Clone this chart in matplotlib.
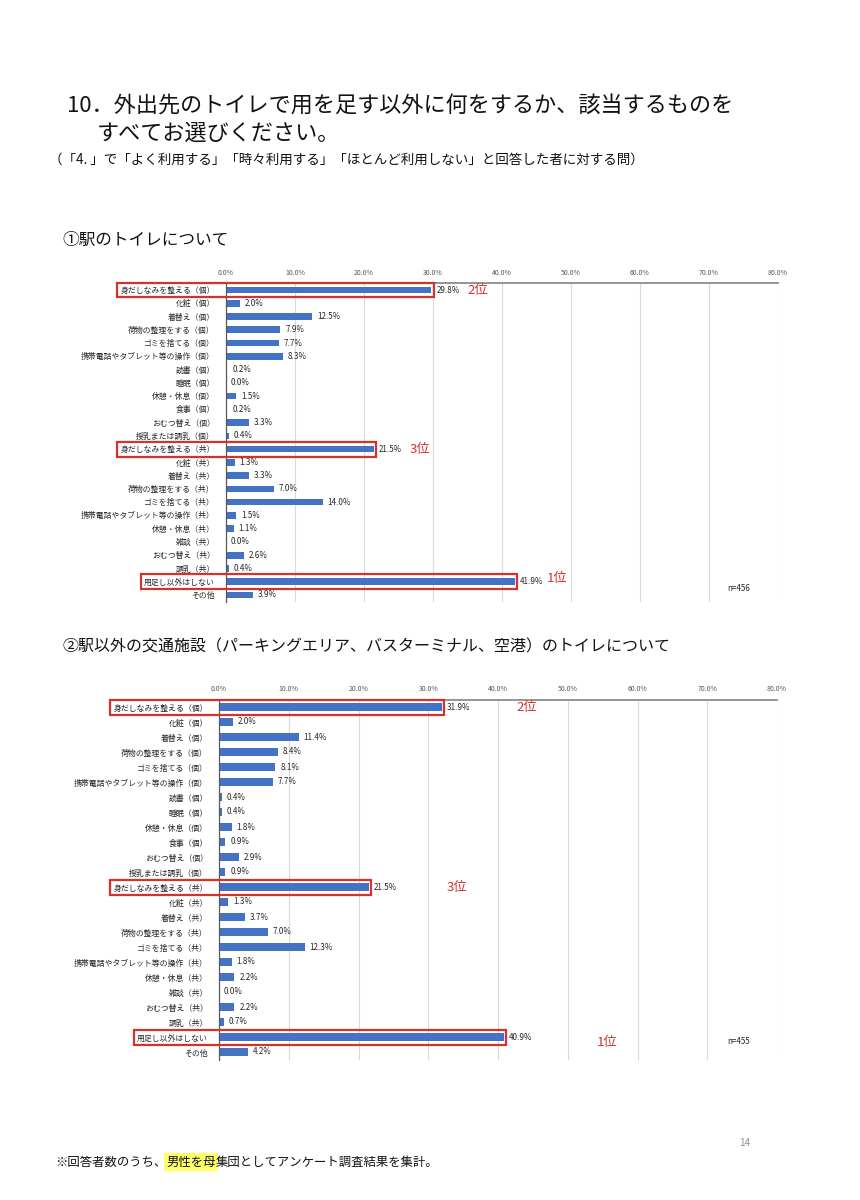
import matplotlib
matplotlib.use("Agg")
import matplotlib.pyplot as plt
from matplotlib.patches import Rectangle

plt.rcParams['font.family'] = ['Noto Sans CJK JP', 'DejaVu Sans']

# ---------------- data ----------------
labels_1 = ["身だしなみを整える（個）", "化粧（個）", "着替え（個）", "荷物の整理をする（個）",
            "ゴミを捨てる（個）", "携帯電話やタブレット等の操作（個）", "読書（個）", "睡眠（個）",
            "休憩・休息（個）", "食事（個）", "おむつ替え（個）", "授乳または調乳（個）",
            "身だしなみを整える（共）", "化粧（共）", "着替え（共）", "荷物の整理をする（共）",
            "ゴミを捨てる（共）", "携帯電話やタブレット等の操作（共）", "休憩・休息（共）", "雑談（共）",
            "おむつ替え（共）", "調乳（共）", "用足し以外はしない", "その他"]
values_1 = [29.8, 2.0, 12.5, 7.9, 7.7, 8.3, 0.2, 0.0, 1.5, 0.2, 3.3, 0.4,
            21.5, 1.3, 3.3, 7.0, 14.0, 1.5, 1.1, 0.0, 2.6, 0.4, 41.9, 3.9]

labels_2 = labels_1
values_2 = [31.9, 2.0, 11.4, 8.4, 8.1, 7.7, 0.4, 0.4, 1.8, 0.9, 2.9, 0.9,
            21.5, 1.3, 3.7, 7.0, 12.3, 1.8, 2.2, 0.0, 2.2, 0.7, 40.9, 4.2]

ticks = [0, 10, 20, 30, 40, 50, 60, 70, 80]
tick_labels = [f"{t:.1f}%" for t in ticks]

rank_labels = ["1位", "2位", "3位"]
rank_rows = [22, 0, 12]
n_1 = "n=456"
n_2 = "n=455"

# ---------------- style ----------------
BAR = "#4472C4"
RED = "#D6312B"
GRID = "#D9D9D9"
TXT = "#262626"

W, H = 860, 1200
fig = plt.figure(figsize=(W / 100, H / 100), dpi=100)
fig.patch.set_facecolor("white")


def px_axes(left, top, right, bottom):
    return fig.add_axes([left / W, 1 - bottom / H, (right - left) / W, (bottom - top) / H])


def fx(x):
    return x / W


def fy(y):
    return 1 - y / H


def make_chart(ax, labels, values, cat_fs, val_fs):
    n = len(labels)
    ys = list(range(n))
    ax.barh(ys, values, height=0.5, color=BAR, zorder=3)
    ax.set_xlim(0, 80)
    ax.set_ylim(n - 0.5, -0.5)
    ax.xaxis.tick_top()
    ax.set_xticks(ticks)
    ax.set_xticklabels(tick_labels, fontsize=5.0, color="#595959")
    ax.set_yticks(ys)
    ax.set_yticklabels(labels, fontsize=cat_fs, color=TXT)
    ax.tick_params(axis="both", length=0)
    ax.tick_params(axis="y", pad=8)
    ax.tick_params(axis="x", pad=4.5)
    ax.grid(axis="x", color=GRID, linewidth=0.8, zorder=0)
    for s in ["right", "bottom"]:
        ax.spines[s].set_visible(False)
    ax.spines["top"].set_color("#8C8C8C")
    ax.spines["top"].set_linewidth(1.3)
    ax.spines["left"].set_color("#595959")
    ax.spines["left"].set_linewidth(0.9)
    ax.spines["left"].set_zorder(4)
    for y, v in zip(ys, values):
        ax.text(v + 0.7, y, f"{v:.1f}%", fontsize=val_fs, color=TXT,
                va="center", ha="left", zorder=5)


ax1 = px_axes(226, 283.4, 777.5, 601.6)
make_chart(ax1, labels_1, values_1, 5.65, 5.8)

ax2 = px_axes(219, 699.5, 777, 1059.5)
make_chart(ax2, labels_2, values_2, 5.7, 5.8)

# rank annotations
rank_x_1 = [46.6, 35.0, 26.6]
rank_dy_1 = [-0.25, 0.0, 0.0]
for lab, r, x, dy in zip(rank_labels, rank_rows, rank_x_1, rank_dy_1):
    ax1.text(x, r + dy, lab, color=RED, fontsize=9.5, va="center", ha="left")

rank_x_2 = [54.2, 42.6, 32.6]
rank_dy_2 = [0.35, 0.0, 0.0]
for lab, r, x, dy in zip(rank_labels, rank_rows, rank_x_2, rank_dy_2):
    ax2.text(x, r + dy, lab, color=RED, fontsize=9.5, va="center", ha="left")

ax1.text(72.7, 22.5, n_1, fontsize=5.8, color=TXT, va="center", ha="left")
ax2.text(72.9, 22.3, n_2, fontsize=5.8, color=TXT, va="center", ha="left")

# red boxes around label + bar
fig.canvas.draw()
renderer = fig.canvas.get_renderer()


def red_boxes(ax, values, box_h):
    tls = ax.get_yticklabels()
    inv = ax.transData.inverted()
    for r in rank_rows:
        ext = tls[r].get_window_extent(renderer)
        x0 = inv.transform((ext.x0 - 3, 0))[0]
        x1 = values[r] + 0.3
        rect = Rectangle((x0, r - box_h / 2), x1 - x0, box_h, fill=False,
                         edgecolor=RED, linewidth=1.6, clip_on=False, zorder=6)
        ax.add_patch(rect)


red_boxes(ax1, values_1, 1.12)
red_boxes(ax2, values_2, 1.0)

# ---------------- page text ----------------
fig.text(fx(67), fy(107), "10．外出先のトイレで用を足す以外に何をするか、該当するものを",
         fontsize=15.9, color="#111111", va="center", ha="left")
fig.text(fx(97), fy(134), "すべてお選びください。",
         fontsize=15.9, color="#111111", va="center", ha="left")
fig.text(fx(49), fy(160), "（「4. 」で「よく利用する」「時々利用する」「ほとんど利用しない」と回答した者に対する問）",
         fontsize=9.75, color="#111111", va="center", ha="left")

fig.text(fx(62), fy(240), "①駅のトイレについて", fontsize=12, color="#111111",
         va="center", ha="left")
fig.text(fx(62), fy(647), "②駅以外の交通施設（パーキングエリア、バスターミナル、空港）のトイレについて",
         fontsize=11.5, color="#111111", va="center", ha="left")

fig.text(fx(745), fy(1143), "14", fontsize=7, color="#8C8C8C", va="center", ha="center")

# footer with highlight
parts = ["※回答者数のうち、", "男性を母", "集団としてアンケート調査結果を集計。"]
x_cur = fx(55)
for i, p in enumerate(parts):
    kw = {}
    if i == 1:
        kw["bbox"] = dict(boxstyle="square,pad=0.2", facecolor="#FFFF66",
                          edgecolor="none")
    t = fig.text(x_cur, fy(1162), p, fontsize=8.9, color="#111111",
                 va="center", ha="left", **kw)
    fig.canvas.draw()
    ext = t.get_window_extent(renderer)
    x_cur = ext.x1 / fig.bbox.width

fig.savefig("out.png", dpi=100, facecolor="white")
